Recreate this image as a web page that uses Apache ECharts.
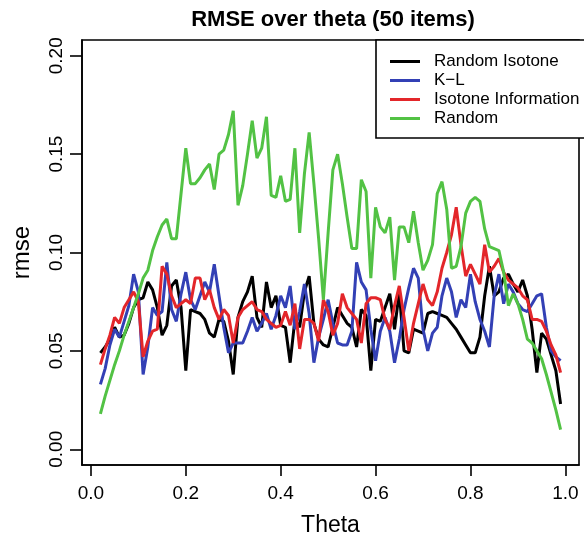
<!DOCTYPE html>
<html>
<head>
<meta charset="utf-8">
<script src="https://cdn.jsdelivr.net/npm/echarts@6/dist/echarts.min.js"></script>
<style>html,body{margin:0;padding:0;background:#fff}#c{width:584px;height:543px}</style>
</head>
<body>
<div id="c"></div>
<script>
var theta = [0.02,0.03,0.04,0.05,0.06,0.07,0.08,0.09,0.10,0.11,0.12,0.13,0.14,0.15,0.16,0.17,0.18,0.19,0.20,0.21,0.22,0.23,0.24,0.25,0.26,0.27,0.28,0.29,0.30,0.31,0.32,0.33,0.34,0.35,0.36,0.37,0.38,0.39,0.40,0.41,0.42,0.43,0.44,0.45,0.46,0.47,0.48,0.49,0.50,0.51,0.52,0.53,0.54,0.55,0.56,0.57,0.58,0.59,0.60,0.61,0.62,0.63,0.64,0.65,0.66,0.67,0.68,0.69,0.70,0.71,0.72,0.73,0.74,0.75,0.76,0.77,0.78,0.79,0.80,0.81,0.82,0.83,0.84,0.85,0.86,0.87,0.88,0.89,0.90,0.91,0.92,0.93,0.94,0.95,0.96,0.97,0.98,0.99];

var randomIsotone = [0.049,0.052,0.056,0.062,0.057,0.058,0.064,0.072,0.076,0.077,0.085,0.081,0.072,0.058,0.063,0.083,0.086,0.072,0.040,0.071,0.070,0.069,0.066,0.059,0.057,0.066,0.065,0.055,0.038,0.067,0.075,0.080,0.088,0.067,0.062,0.085,0.072,0.078,0.063,0.062,0.044,0.066,0.062,0.080,0.088,0.064,0.056,0.053,0.052,0.062,0.072,0.068,0.064,0.062,0.052,0.071,0.068,0.040,0.066,0.065,0.072,0.079,0.061,0.080,0.050,0.049,0.061,0.060,0.059,0.069,0.070,0.069,0.068,0.067,0.064,0.061,0.057,0.053,0.049,0.049,0.057,0.078,0.093,0.078,0.080,0.087,0.089,0.084,0.080,0.086,0.078,0.061,0.039,0.059,0.056,0.048,0.040,0.023];

var kl = [0.033,0.041,0.053,0.061,0.057,0.065,0.073,0.089,0.080,0.038,0.052,0.072,0.068,0.070,0.095,0.071,0.065,0.079,0.090,0.076,0.071,0.078,0.085,0.080,0.094,0.078,0.062,0.049,0.054,0.054,0.054,0.060,0.067,0.060,0.064,0.069,0.061,0.068,0.078,0.072,0.083,0.061,0.070,0.084,0.069,0.044,0.057,0.066,0.076,0.064,0.054,0.053,0.053,0.060,0.095,0.085,0.081,0.061,0.045,0.060,0.067,0.060,0.044,0.056,0.071,0.082,0.092,0.087,0.061,0.050,0.059,0.062,0.078,0.087,0.080,0.067,0.076,0.072,0.089,0.075,0.066,0.060,0.052,0.078,0.089,0.074,0.084,0.080,0.074,0.071,0.070,0.074,0.078,0.079,0.062,0.050,0.047,0.045];

var isotoneInfo = [0.043,0.051,0.058,0.067,0.064,0.072,0.076,0.080,0.075,0.047,0.055,0.060,0.061,0.093,0.089,0.078,0.072,0.074,0.076,0.074,0.087,0.087,0.076,0.081,0.072,0.066,0.071,0.068,0.054,0.067,0.071,0.073,0.075,0.071,0.070,0.066,0.064,0.062,0.063,0.070,0.063,0.074,0.051,0.066,0.066,0.064,0.055,0.076,0.070,0.058,0.064,0.079,0.072,0.069,0.066,0.054,0.074,0.077,0.077,0.076,0.066,0.061,0.073,0.083,0.067,0.050,0.064,0.074,0.084,0.076,0.073,0.080,0.092,0.100,0.109,0.123,0.104,0.088,0.094,0.089,0.084,0.104,0.090,0.093,0.097,0.090,0.086,0.084,0.082,0.078,0.076,0.066,0.066,0.065,0.060,0.053,0.048,0.039];

var random = [0.018,0.027,0.035,0.043,0.050,0.058,0.065,0.072,0.079,0.087,0.091,0.101,0.108,0.114,0.117,0.107,0.107,0.130,0.153,0.135,0.135,0.138,0.142,0.145,0.132,0.150,0.152,0.160,0.172,0.124,0.134,0.150,0.167,0.148,0.153,0.169,0.129,0.128,0.139,0.126,0.127,0.153,0.110,0.140,0.161,0.135,0.107,0.076,0.110,0.142,0.150,0.135,0.118,0.102,0.102,0.137,0.131,0.087,0.123,0.113,0.110,0.118,0.086,0.113,0.113,0.105,0.121,0.105,0.091,0.096,0.104,0.130,0.136,0.122,0.092,0.093,0.103,0.120,0.126,0.128,0.126,0.112,0.103,0.102,0.101,0.090,0.073,0.079,0.074,0.066,0.056,0.054,0.050,0.046,0.038,0.029,0.020,0.010];

var xTicks = [0, 0.2, 0.4, 0.6, 0.8, 1.0];
var yTicks = [0, 0.05, 0.10, 0.15, 0.20];
var seriesNames = ['Random Isotone', 'K\u2212L', 'Isotone Information', 'Random'];
var seriesColors = ['#000000', '#3340b5', '#e3262a', '#52c244'];
var seriesValues = [randomIsotone, kl, isotoneInfo, random];

function pairs(vals) {
  return theta.map(function (t, i) { return [t, vals[i]]; });
}

var FONT = 'Liberation Sans, Arial, Helvetica, sans-serif';
var chart = echarts.init(document.getElementById('c'), null, {renderer: 'canvas'});

chart.setOption({
  animation: false,
  backgroundColor: '#ffffff',
  title: {
    text: 'RMSE over theta (50 items)',
    left: 328, top: 4, textAlign: 'center',
    textStyle: {fontFamily: FONT, fontSize: 22, fontWeight: 'bold', color: '#000'}
  },
  grid: {
    left: 82, right: 5, top: 40, bottom: 78,
    outerBoundsMode: 'none', containLabel: false,
    show: true, borderColor: '#000', borderWidth: 1.6, backgroundColor: 'transparent'
  },
  legend: {
    orient: 'vertical', left: 390, top: 52, padding: 0,
    itemWidth: 30, itemHeight: 3, itemGap: 0,
    icon: 'rect',
    data: seriesNames,
    textStyle: {fontFamily: FONT, fontSize: 17, color: '#000', lineHeight: 19, height: 19, padding: [0, 0, 0, 9]},
    z: 20
  },
  graphic: [{
    type: 'rect', z: 15,
    shape: {x: 376, y: 40, width: 230, height: 98},
    style: {fill: '#fff', stroke: '#000', lineWidth: 1.6}
  }],
  xAxis: {
    type: 'value', min: -0.0188, max: 1.0288,
    name: 'Theta', nameLocation: 'middle', nameGap: 49,
    nameTextStyle: {fontFamily: FONT, fontSize: 23, color: '#000'},
    axisLine: {show: true, onZero: false, lineStyle: {color: '#000', width: 1.6}},
    splitLine: {show: false},
    axisTick: {show: true, inside: false, customValues: xTicks, length: 11, lineStyle: {color: '#000', width: 1.6}},
    axisLabel: {customValues: xTicks, margin: 19, fontFamily: FONT, fontSize: 19, color: '#000',
      formatter: function (v) { return v.toFixed(1); }}
  },
  yAxis: {
    type: 'value', min: -0.008, max: 0.208,
    name: 'rmse', nameLocation: 'middle', nameGap: 48, nameRotate: 90,
    nameTextStyle: {fontFamily: FONT, fontSize: 24, color: '#000'},
    axisLine: {show: true, onZero: false, lineStyle: {color: '#000', width: 1.6}},
    splitLine: {show: false},
    axisTick: {show: true, inside: false, customValues: yTicks, length: 12, lineStyle: {color: '#000', width: 1.6}},
    axisLabel: {customValues: yTicks, rotate: 90, margin: 16, fontFamily: FONT, fontSize: 19, color: '#000',
      formatter: function (v) { return v.toFixed(2); }}
  },
  series: seriesValues.map(function (vals, i) {
    return {
      name: seriesNames[i], type: 'line', data: pairs(vals),
      showSymbol: false, symbol: 'none',
      lineStyle: {color: seriesColors[i], width: 3},
      itemStyle: {color: seriesColors[i]},
      z: 2 + i
    };
  })
});
</script>
</body>
</html>
